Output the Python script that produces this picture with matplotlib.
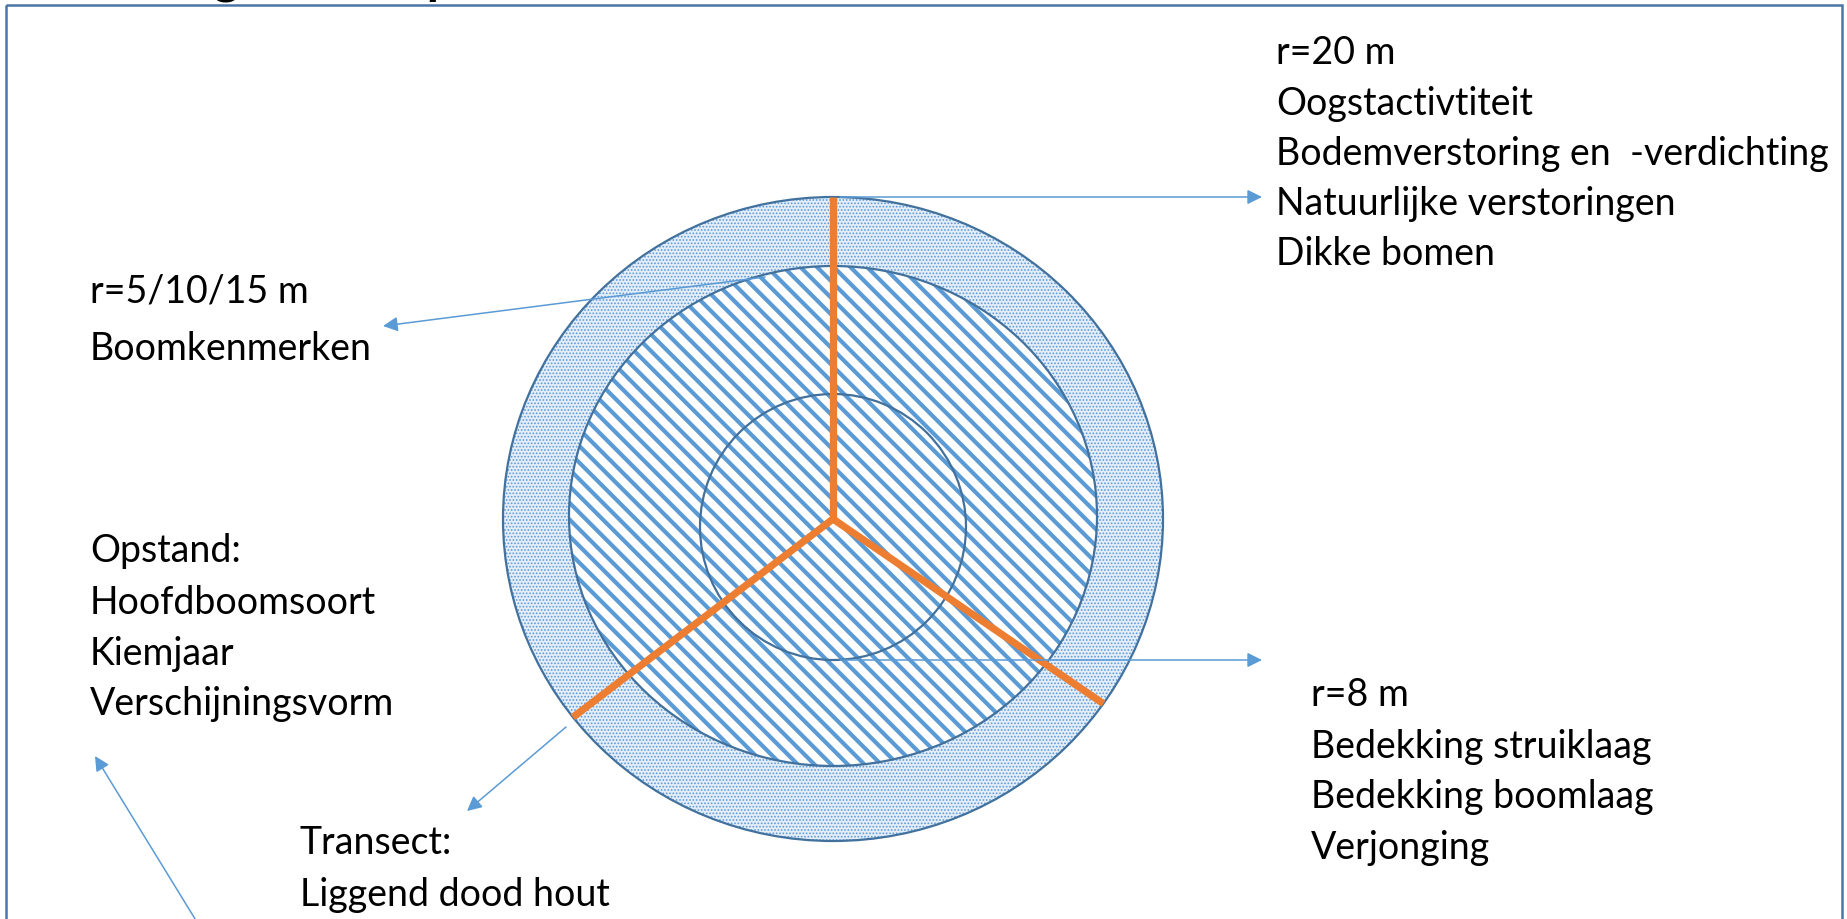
import matplotlib.pyplot as plt
from matplotlib.patches import Ellipse, Rectangle
import numpy as np

# labels of the text blocks
title = "Metingen in de proefvlakken"
labels_r20 = ["r=20 m", "Oogstactivtiteit", "Bodemverstoring en  -verdichting",
              "Natuurlijke verstoringen", "Dikke bomen"]
labels_r15 = ["r=5/10/15 m", "Boomkenmerken"]
labels_opstand = ["Opstand:", "Hoofdboomsoort", "Kiemjaar", "Verschijningsvorm"]
labels_r8 = ["r=8 m", "Bedekking struiklaag", "Bedekking boomlaag", "Verjonging"]
labels_transect = ["Transect:", "Liggend dood hout"]

# plot rings (m) and transect directions (degrees)
ring_radius = [20, 16, 8]
transect_angle = [90, -35, -142]

W, H = 1847, 919
blue = "#5B9BD5"
edge = "#41719C"
orange = "#ED7D31"

plt.rcParams['font.family'] = ['Lato', 'DejaVu Sans']

fig = plt.figure(figsize=(W / 100, H / 100), dpi=100)
ax = fig.add_axes([0, 0, 1, 1])
ax.set_xlim(0, W)
ax.set_ylim(H, 0)
ax.axis('off')

# slide frame + cut-off title
ax.add_patch(Rectangle((6, 5), 1836, 940, fill=False, ec="#4A76A8", lw=1.8, clip_on=False))
ax.text(80, -6, title, fontsize=36, fontweight='bold', color='black', va='baseline', ha='left')

# circles (pixel scale per metre, slightly wider than tall like the slide)
cx, cy = 833, 519
sx = [330 / 20, 264 / 16, 133 / 8]
sy = [322 / 20, 250 / 16, 133 / 8]
dy = [0, -3, 8]

# outer ring: dotted
plt.rcParams['hatch.linewidth'] = 0.8
ax.add_patch(Ellipse((cx, cy + dy[0]), 2 * ring_radius[0] * sx[0], 2 * ring_radius[0] * sy[0],
                     fc="#E4EEF9", ec="#5E98D8", lw=0, hatch='.....'))
ax.add_patch(Ellipse((cx, cy + dy[0]), 2 * ring_radius[0] * sx[0], 2 * ring_radius[0] * sy[0],
                     fill=False, ec=edge, lw=1.6))

# middle disc: wide downward diagonal
plt.rcParams['hatch.linewidth'] = 3.0
ax.add_patch(Ellipse((cx, cy + dy[1]), 2 * ring_radius[1] * sx[1], 2 * ring_radius[1] * sy[1],
                     fc="white", ec=blue, lw=0, hatch='\\\\'))
ax.add_patch(Ellipse((cx, cy + dy[1]), 2 * ring_radius[1] * sx[1], 2 * ring_radius[1] * sy[1],
                     fill=False, ec=edge, lw=1.6))

# inner circle: outline on the same hatch
ax.add_patch(Ellipse((cx, cy + dy[2]), 2 * ring_radius[2] * sx[2], 2 * ring_radius[2] * sy[2],
                     fill=False, ec=edge, lw=1.6))

# transects
R = ring_radius[0]
for a in transect_angle:
    t = np.deg2rad(a)
    ax.plot([cx, cx + R * sx[0] * np.cos(t)], [cy, cy - R * sy[0] * np.sin(t)],
            color=orange, lw=5.2, solid_capstyle='butt', zorder=5)

# arrows
arrows = [((840, 197), (1262, 197)),
          ((765, 277), (383, 326)),
          ((840, 660), (1262, 660)),
          ((566, 727), (467, 811)),
          ((208, 940), (95, 756))]
for (x0, y0), (x1, y1) in arrows:
    ax.annotate("", xy=(x1, y1), xytext=(x0, y0),
                arrowprops=dict(arrowstyle='-|>', color=blue, lw=1.1,
                                mutation_scale=22, shrinkA=0, shrinkB=0),
                zorder=6, annotation_clip=False)

# text blocks
def block(x, ys, lines):
    for y, s in zip(ys, lines):
        ax.text(x, y, s, fontsize=27, color='black', va='center', ha='left')

block(1276, [53, 104, 154, 204, 254], labels_r20)
block(90, [292, 349], labels_r15)
block(90, [551, 603, 654, 704], labels_opstand)
block(1311, [695, 747, 797, 848], labels_r8)
block(300, [843, 895], labels_transect)

fig.savefig("out.png", dpi=100)
